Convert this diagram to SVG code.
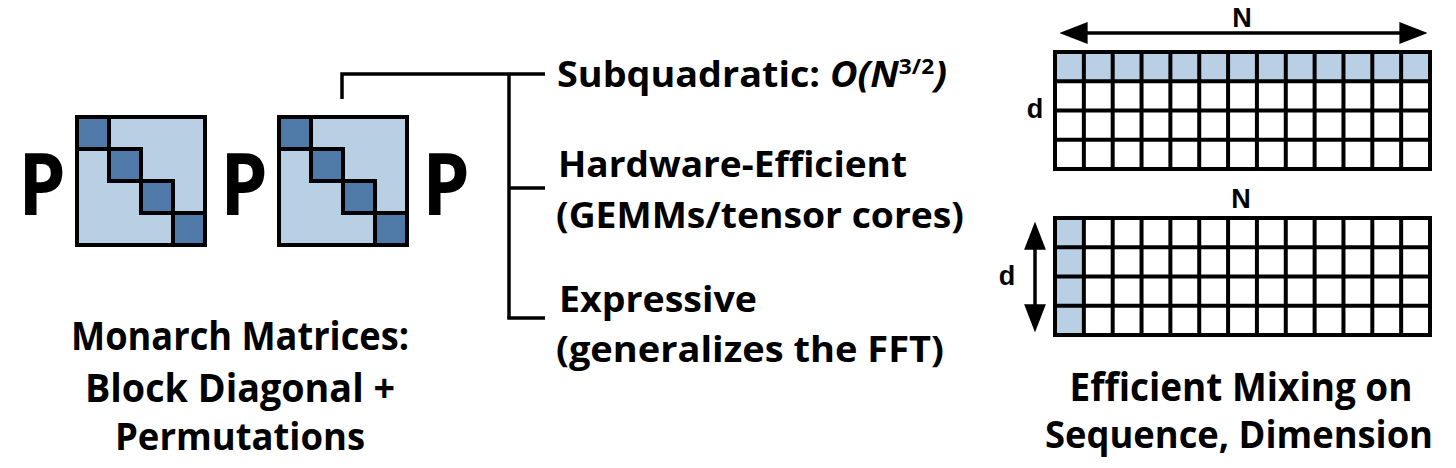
<svg xmlns="http://www.w3.org/2000/svg" width="1456" height="468" viewBox="0 0 1456 468">
  <defs>
    <marker id="ah" markerUnits="userSpaceOnUse" markerWidth="28" markerHeight="22" viewBox="0 0 27 21" refX="17" refY="10.5" orient="auto-start-reverse">
      <path d="M0,0 L27,10.5 L0,21 Z" fill="#000"/>
    </marker>
  </defs>
  <style>
    .lbl { font-family: "Open Sans", "Noto Sans", "Liberation Sans", sans-serif; font-weight: 700; fill: #000; }
    .big { font-family: "Open Sans", "Noto Sans", "Liberation Sans", sans-serif; font-weight: 700; fill: #000; font-size: 86px; }
    .ax { font-family: "Liberation Sans", Arial, sans-serif; font-weight: 700; fill: #000; font-size: 27px; }
    .mat { fill: #b9d0e4; stroke: #000; stroke-width: 4; }
    .blk { fill: #4f7aa8; stroke: #000; stroke-width: 4; }
    .frame { fill: none; stroke: #000; stroke-width: 4; }
    .grid { fill: none; stroke: #000; stroke-width: 4; }
    .light { fill: #b9d0e4; }
    .conn { fill: none; stroke: #000; stroke-width: 3.5; }
    .arr { fill: none; stroke: #000; stroke-width: 3.5; marker-start: url(#ah); marker-end: url(#ah); }
  </style>
  <rect width="1456" height="468" fill="#fff"/>

  <g id="p1"><text class="big" text-anchor="middle" transform="translate(42,215) scale(0.88,1)">P</text></g>
  <g id="matrix1">
    <rect class="mat" x="77" y="117" width="128" height="128"/>
    <rect class="blk" x="77" y="117" width="32" height="32"/>
    <rect class="blk" x="109" y="149" width="32" height="32"/>
    <rect class="blk" x="141" y="181" width="32" height="32"/>
    <rect class="blk" x="173" y="213" width="32" height="32"/>
    <rect class="frame" x="77" y="117" width="128" height="128"/>
  </g>
  <g id="p2"><text class="big" text-anchor="middle" transform="translate(244,215) scale(0.88,1)">P</text></g>
  <g id="matrix2">
    <rect class="mat" x="279" y="117" width="128" height="128"/>
    <rect class="blk" x="279" y="117" width="32" height="32"/>
    <rect class="blk" x="311" y="149" width="32" height="32"/>
    <rect class="blk" x="343" y="181" width="32" height="32"/>
    <rect class="blk" x="375" y="213" width="32" height="32"/>
    <rect class="frame" x="279" y="117" width="128" height="128"/>
  </g>
  <g id="p3"><text class="big" text-anchor="middle" transform="translate(446,215) scale(0.88,1)">P</text></g>

  <g id="monarch-label">
    <text class="lbl" font-size="39" x="240" y="350" text-anchor="middle" textLength="338" lengthAdjust="spacingAndGlyphs">Monarch Matrices:</text>
    <text class="lbl" font-size="39" x="240" y="402" text-anchor="middle" textLength="310" lengthAdjust="spacingAndGlyphs">Block Diagonal +</text>
    <text class="lbl" font-size="38" x="240" y="450" text-anchor="middle" textLength="250" lengthAdjust="spacingAndGlyphs">Permutations</text>
  </g>

  <g id="connectors">
    <path class="conn" d="M342,99 V74 H545"/>
    <path class="conn" d="M509,74 V318"/>
    <path class="conn" d="M509,188 H545"/>
    <path class="conn" d="M507.25,318 H545"/>
  </g>

  <g id="subquadratic">
    <text class="lbl" font-size="35" x="557" y="87" textLength="390" lengthAdjust="spacingAndGlyphs">Subquadratic: <tspan font-style="italic">O(N</tspan><tspan font-size="21" dy="-13">3/2</tspan><tspan font-style="italic" dy="13">)</tspan></text>
  </g>
  <g id="hardware">
    <text class="lbl" font-size="35" x="558" y="177" textLength="349" lengthAdjust="spacingAndGlyphs">Hardware-Efficient</text>
    <text class="lbl" font-size="35" x="556" y="228" textLength="408" lengthAdjust="spacingAndGlyphs">(GEMMs/tensor cores)</text>
  </g>
  <g id="expressive">
    <text class="lbl" font-size="35" x="559" y="312" textLength="198" lengthAdjust="spacingAndGlyphs">Expressive</text>
    <text class="lbl" font-size="35" x="556" y="362" textLength="388" lengthAdjust="spacingAndGlyphs">(generalizes the FFT)</text>
  </g>

  <g id="grid-sequence">
    <rect class="light" x="1055" y="52" width="375" height="29.25"/>
    <rect class="grid" x="1055" y="52" width="375" height="117"/>
    <path class="grid" d="M1055,81.25 H1430 M1055,110.5 H1430 M1055,139.75 H1430
      M1083.85,52 V169 M1112.69,52 V169 M1141.54,52 V169 M1170.38,52 V169 M1199.23,52 V169 M1228.08,52 V169
      M1256.92,52 V169 M1285.77,52 V169 M1314.62,52 V169 M1343.46,52 V169 M1372.31,52 V169 M1401.15,52 V169"/>
    <line class="arr" x1="1070" y1="33" x2="1417" y2="33"/>
    <text class="ax" x="1242" y="27" text-anchor="middle">N</text>
    <text class="ax" x="1035" y="118" text-anchor="middle">d</text>
  </g>

  <g id="grid-dimension">
    <rect class="light" x="1055" y="218" width="28.85" height="117"/>
    <rect class="grid" x="1055" y="218" width="375" height="117"/>
    <path class="grid" d="M1055,247.25 H1430 M1055,276.5 H1430 M1055,305.75 H1430
      M1083.85,218 V335 M1112.69,218 V335 M1141.54,218 V335 M1170.38,218 V335 M1199.23,218 V335 M1228.08,218 V335
      M1256.92,218 V335 M1285.77,218 V335 M1314.62,218 V335 M1343.46,218 V335 M1372.31,218 V335 M1401.15,218 V335"/>
    <line class="arr" x1="1035" y1="232" x2="1035" y2="322"/>
    <text class="ax" x="1241" y="208" text-anchor="middle">N</text>
    <text class="ax" x="1007" y="285" text-anchor="middle">d</text>
  </g>

  <g id="mixing-label">
    <text class="lbl" font-size="39" x="1241" y="401" text-anchor="middle" textLength="343" lengthAdjust="spacingAndGlyphs">Efficient Mixing on</text>
    <text class="lbl" font-size="38" x="1239" y="448" text-anchor="middle" textLength="388" lengthAdjust="spacingAndGlyphs">Sequence, Dimension</text>
  </g>
</svg>
